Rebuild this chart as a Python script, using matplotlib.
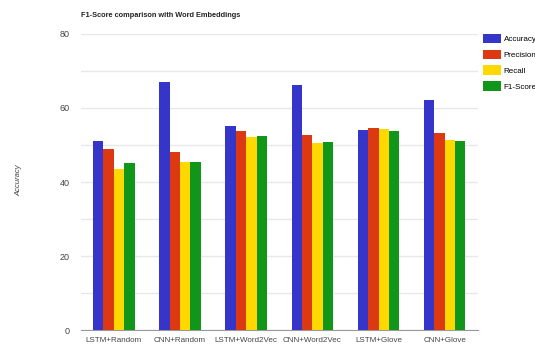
import matplotlib.pyplot as plt
import numpy as np

plt.rcParams['font.family'] = ['Liberation Sans', 'DejaVu Sans']

# Data.
models = ['LSTM+Random', 'CNN+Random', 'LSTM+Word2Vec', 'CNN+Word2Vec', 'LSTM+Glove', 'CNN+Glove']
accuracy = [51.2, 67.0, 55.1, 66.2, 54.1, 62.1]
precision = [49.0, 48.1, 53.8, 52.7, 54.7, 53.2]
recall = [43.4, 45.5, 52.2, 50.5, 54.3, 51.4]
f1_score = [45.1, 45.5, 52.3, 50.7, 53.8, 51.2]

series = [('Accuracy', accuracy, '#3535c9'),
          ('Precision', precision, '#dc3912'),
          ('Recall', recall, '#ffd800'),
          ('F1-Score', f1_score, '#109618')]

fig = plt.figure(figsize=(5.35, 3.5), dpi=100)
ax = fig.add_axes([0.151, 0.057, 0.742, 0.846])

x = np.arange(len(models))
w = 0.157
for i, (name, vals, col) in enumerate(series):
    ax.bar(x + (i - 1.5) * w, vals, w, color=col, label=name, zorder=3)

ax.set_xlim(-0.5, len(models) - 0.5)
ax.set_ylim(0, 80)
ax.set_yticks([0, 20, 40, 60, 80])
ax.set_yticks([10, 30, 50, 70], minor=True)
ax.grid(axis='y', which='both', color='#e8e8e8', linewidth=1, zorder=0)
ax.set_xticks(x)
ax.set_xticklabels(models)
ax.tick_params(axis='both', which='both', length=0, labelsize=5.8, colors='#444444', pad=5)
ax.tick_params(axis='y', labelsize=6.5, pad=8)
for s in ['top', 'right', 'left']:
    ax.spines[s].set_visible(False)
ax.spines['bottom'].set_color('#999999')

fig.text(0.151, 0.955, 'F1-Score comparison with Word Embeddings', fontsize=5.3,
         fontweight='bold', ha='left', va='center', color='#222222')
fig.text(0.036, 0.485, 'Accuracy', rotation=90, fontsize=5.5, style='italic',
         ha='center', va='center', color='#444444')

ax.legend(loc='upper left', bbox_to_anchor=(1.0, 1.02), frameon=False, fontsize=5.8,
          handlelength=2.2, handleheight=1.5, handletextpad=0.3, labelspacing=0.75,
          borderaxespad=0.3)

fig.savefig('out.png', dpi=100)
